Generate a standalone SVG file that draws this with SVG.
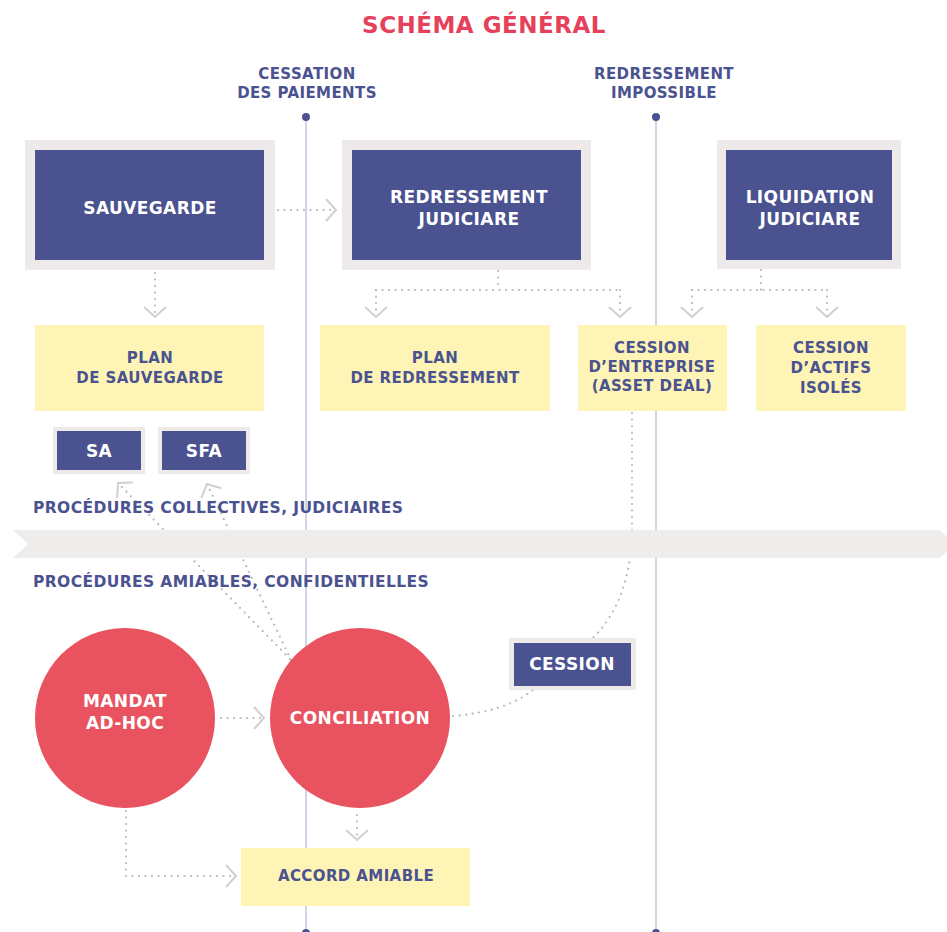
<svg xmlns="http://www.w3.org/2000/svg" width="947" height="932" viewBox="0 0 947 932">
<defs>
<style>
text{font-family:"DejaVu Sans","Liberation Sans",sans-serif;font-weight:bold;text-anchor:middle;dominant-baseline:central;letter-spacing:0.4px}
.nv{fill:#4a5290}
.wt{fill:#ffffff}
.frame{fill:#eeeaea}
.box{fill:#4a5290}
.yel{fill:#fef4b5}
.circ{fill:#e9535f}
.vl{stroke:#c8c8dc;stroke-width:1.6;fill:none}
.dot{stroke:#b9b6b9;stroke-width:2.2;stroke-linecap:round;stroke-dasharray:0 6.5;fill:none}
.lbl{text-anchor:start;font-size:15.5px;fill:#4a5290}
</style>
<marker id="chev" markerUnits="userSpaceOnUse" markerWidth="24" markerHeight="26" viewBox="-12 -13 24 26" refX="0" refY="0" orient="auto" overflow="visible">
<path d="M-10,-11 L0,0 L-10,11" fill="none" stroke="#d3cfcf" stroke-width="2"/>
</marker>
</defs>
<rect width="947" height="932" fill="#ffffff"/>

<text x="484" y="25" style="font-size:23px;fill:#e5415a;letter-spacing:0.5px">SCHÉMA GÉNÉRAL</text>

<g id="timeline">
<line class="vl" x1="306" y1="117" x2="306" y2="932"/>
<line class="vl" x1="656" y1="117" x2="656" y2="932"/>
<circle cx="306" cy="117" r="4" fill="#4a5290"/>
<circle cx="656" cy="117" r="4" fill="#4a5290"/>
<circle cx="306" cy="933" r="4" fill="#4a5290"/>
<circle cx="656" cy="933" r="4" fill="#4a5290"/>
<text class="nv" x="307" y="74" style="font-size:15px">CESSATION</text>
<text class="nv" x="307" y="93" style="font-size:15px">DES PAIEMENTS</text>
<text class="nv" x="664" y="74" style="font-size:15px">REDRESSEMENT</text>
<text class="nv" x="664" y="93" style="font-size:15px">IMPOSSIBLE</text>
</g>

<g id="connectors">
<path class="dot" d="M278,210 L336,210" marker-end="url(#chev)"/>
<path class="dot" d="M155,273 L155,317" marker-end="url(#chev)"/>
<path class="dot" d="M498,271 L498,290 M376,290 L620,290" />
<path class="dot" d="M376,290 L376,317" marker-end="url(#chev)"/>
<path class="dot" d="M620,290 L620,317" marker-end="url(#chev)"/>
<path class="dot" d="M761,270 L761,290 M692,290 L827,290"/>
<path class="dot" d="M692,290 L692,317" marker-end="url(#chev)"/>
<path class="dot" d="M827,290 L827,317" marker-end="url(#chev)"/>
<path class="dot" d="M632,413 L632,530 Q631,600 593,638"/>
<path class="dot" d="M453,716 Q505,712 533,690"/>
<path class="dot" d="M290,659 L118,483" marker-end="url(#chev)"/>
<path class="dot" d="M291,660 L207,484" marker-end="url(#chev)"/>
<path class="dot" d="M221,718 L264,718" marker-end="url(#chev)"/>
<path class="dot" d="M357,815 L357,840" marker-end="url(#chev)"/>
<path class="dot" d="M126,811 L126,876 L236,876" marker-end="url(#chev)"/>
</g>

<g id="banner">
<polygon points="13,530 940,530 947,537 947,551 940,558 13,558 28,544" fill="#efecec"/>
<text class="lbl" x="33" y="508">PROCÉDURES COLLECTIVES, JUDICIAIRES</text>
<text class="lbl" x="33" y="582">PROCÉDURES AMIABLES, CONFIDENTIELLES</text>
</g>

<g id="sauvegarde">
<rect class="frame" x="25" y="140" width="250" height="130"/>
<rect class="box" x="35" y="150" width="229" height="110"/>
<text class="wt" x="150" y="208" style="font-size:17px">SAUVEGARDE</text>
</g>

<g id="redressement">
<rect class="frame" x="342" y="140" width="249" height="130"/>
<rect class="box" x="352" y="150" width="229" height="110"/>
<text class="wt" x="469" y="197" style="font-size:17px">REDRESSEMENT</text>
<text class="wt" x="469" y="219" style="font-size:17px">JUDICIARE</text>
</g>

<g id="liquidation">
<rect class="frame" x="717" y="140" width="184" height="129"/>
<rect class="box" x="726" y="150" width="166" height="110"/>
<text class="wt" x="810" y="197" style="font-size:17px">LIQUIDATION</text>
<text class="wt" x="810" y="219" style="font-size:17px">JUDICIARE</text>
</g>

<g id="plan-sauvegarde">
<rect class="yel" x="35" y="325" width="229" height="86"/>
<text class="nv" x="150" y="358" style="font-size:15px">PLAN</text>
<text class="nv" x="150" y="378" style="font-size:15px">DE SAUVEGARDE</text>
</g>

<g id="plan-redressement">
<rect class="yel" x="320" y="325" width="230" height="86"/>
<text class="nv" x="435" y="358" style="font-size:15px">PLAN</text>
<text class="nv" x="435" y="378" style="font-size:15px">DE REDRESSEMENT</text>
</g>

<g id="cession-entreprise">
<rect class="yel" x="578" y="325" width="149" height="86"/>
<text class="nv" x="652" y="348" style="font-size:15px">CESSION</text>
<text class="nv" x="652" y="367" style="font-size:15px">D’ENTREPRISE</text>
<text class="nv" x="652" y="386" style="font-size:15px">(ASSET DEAL)</text>
</g>

<g id="cession-actifs">
<rect class="yel" x="756" y="325" width="150" height="86"/>
<text class="nv" x="831" y="348" style="font-size:15px">CESSION</text>
<text class="nv" x="831" y="368" style="font-size:15px">D’ACTIFS</text>
<text class="nv" x="831" y="388" style="font-size:15px">ISOLÉS</text>
</g>

<g id="sa">
<rect class="frame" x="53" y="427" width="92" height="47"/>
<rect class="box" x="57" y="431" width="84" height="39"/>
<text class="wt" x="99" y="451" style="font-size:17px">SA</text>
</g>

<g id="sfa">
<rect class="frame" x="158" y="427" width="92" height="47"/>
<rect class="box" x="162" y="431" width="84" height="39"/>
<text class="wt" x="204" y="451" style="font-size:17px">SFA</text>
</g>

<g id="cession">
<rect class="frame" x="509" y="638" width="127" height="52"/>
<rect class="box" x="514" y="643" width="117" height="43"/>
<text class="wt" x="572" y="664" style="font-size:17px">CESSION</text>
</g>

<g id="mandat">
<circle class="circ" cx="125" cy="718" r="90"/>
<text class="wt" x="125" y="701" style="font-size:17px">MANDAT</text>
<text class="wt" x="125" y="723" style="font-size:17px">AD-HOC</text>
</g>

<g id="conciliation">
<circle class="circ" cx="360" cy="718" r="90"/>
<text class="wt" x="360" y="718" style="font-size:17px">CONCILIATION</text>
</g>

<g id="accord">
<rect class="yel" x="241" y="848" width="229" height="58"/>
<text class="nv" x="356" y="876" style="font-size:15px">ACCORD AMIABLE</text>
</g>
</svg>
